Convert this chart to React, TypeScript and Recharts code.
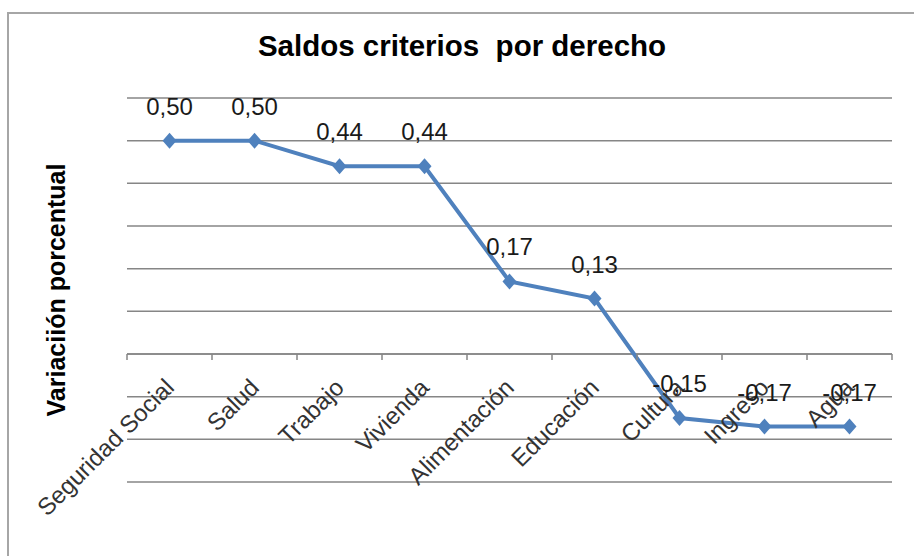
import { LineChart, Line, XAxis, YAxis, CartesianGrid, ReferenceLine, ReferenceDot, LabelList } from 'recharts';

const categories = ['Seguridad Social', 'Salud', 'Trabajo', 'Vivienda', 'Alimentación', 'Educación', 'Cultura', 'Ingreso', 'Agua'];
const saldos = [0.5, 0.5, 0.44, 0.44, 0.17, 0.13, -0.15, -0.17, -0.17];
const yTicks = [-0.3, -0.2, -0.1, 0, 0.1, 0.2, 0.3, 0.4, 0.5, 0.6];

const data = categories.map((c, i) => ({ name: c, value: saldos[i] }));

const W = 914;
const H = 556;
const margin = { top: 98, right: 22, bottom: 74, left: 127 };
const band = (W - margin.left - margin.right) / categories.length;
const FONT = "'Liberation Sans', Arial, sans-serif";

const fmt = (v: number) => v.toFixed(2).replace('.', ',');

const Diamond = ({ cx, cy }: any) => (
  <path d={`M${cx},${cy - 8} L${cx + 7},${cy} L${cx},${cy + 8} L${cx - 7},${cy} Z`} fill="#4F81BD" />
);

// axis crosses at 0, so tick marks + rotated names are hung off a dot at y=0
const CatTick = (last: boolean, label: string) => ({ cx, cy }: any) => (
  <g>
    <line x1={cx - band / 2} y1={cy} x2={cx - band / 2} y2={cy + 6} stroke="#868686" strokeWidth={1.5} />
    {last && <line x1={cx + band / 2} y1={cy} x2={cx + band / 2} y2={cy + 6} stroke="#868686" strokeWidth={1.5} />}
    <text
      x={cx + 6} y={cy + 35}
      textAnchor="end"
      transform={`rotate(-45 ${cx + 6} ${cy + 35})`}
      fontSize={24} fill="#333" fontFamily={FONT}
    >{label}</text>
  </g>
);

export default function App() {
  return (
    <div style={{ position: 'absolute', left: 0, top: 0, width: W, height: H, overflow: 'hidden', background: '#fff' }}>
      <div style={{
        position: 'absolute', left: 7, top: 12, width: W + 20, height: H + 20,
        border: '2px solid #a6a6a6',
      }} />
      <div style={{
        position: 'absolute', left: 0, top: 29, width: 924, textAlign: 'center',
        fontFamily: FONT, fontWeight: 700, fontSize: 29.5, color: '#000',
        whiteSpace: 'pre',
      }}>Saldos criterios  por derecho</div>
      <div style={{
        position: 'absolute', left: 56, top: 290, transform: 'translate(-50%, -50%) rotate(-90deg)',
        fontFamily: FONT, fontWeight: 700, fontSize: 25, color: '#000',
        whiteSpace: 'nowrap',
      }}>Variaciión porcentual</div>
      <div style={{ position: 'absolute', left: 0, top: 0 }}>
        <LineChart width={W} height={H} data={data} margin={margin}>
          <CartesianGrid vertical={false} stroke="#868686" strokeWidth={1.5} />
          <XAxis dataKey="name" scale="band" hide />
          <YAxis domain={[-0.3, 0.6]} ticks={yTicks} hide />
          <ReferenceLine y={0} stroke="#868686" strokeWidth={1.5} />
          {categories.map((c, i) => (
            <ReferenceDot key={c} x={c} y={0} r={0} shape={CatTick(i === categories.length - 1, c)} />
          ))}
          <Line
            dataKey="value" stroke="#4F81BD" strokeWidth={4}
            dot={<Diamond />} activeDot={false} isAnimationActive={false}
          >
            <LabelList
              dataKey="value" position="top" offset={26} formatter={(v: any) => fmt(Number(v))}
              style={{ fontSize: 24, fill: '#1a1a1a', fontFamily: FONT }}
            />
          </Line>
        </LineChart>
      </div>
    </div>
  );
}
